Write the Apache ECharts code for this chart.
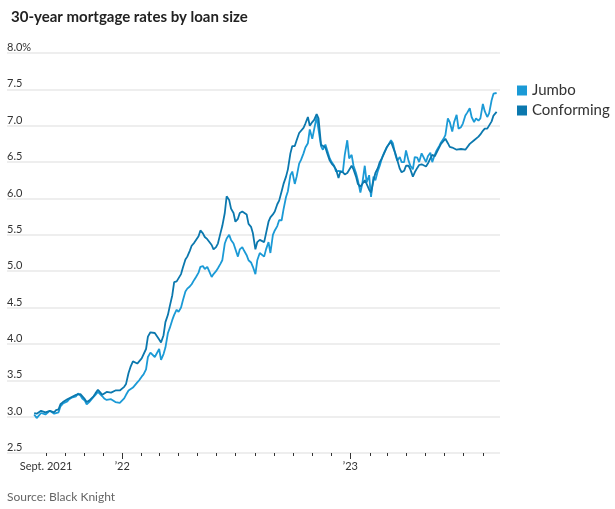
<!DOCTYPE html>
<html>
<head>
<meta charset="utf-8">
<script src="https://cdn.jsdelivr.net/npm/echarts@6/dist/echarts.min.js"></script>
<style>
html,body{margin:0;padding:0;background:#fff;}
#chart{width:615px;height:509px;}
</style>
</head>
<body>
<div id="chart"></div>
<script>
// Friday readings
const fridays = [
'2021-08-13','2021-08-20','2021-08-27','2021-09-03','2021-09-10','2021-09-17','2021-09-24','2021-10-01','2021-10-08','2021-10-15','2021-10-22','2021-10-29','2021-11-05','2021-11-12','2021-11-19','2021-11-26','2021-12-03','2021-12-10','2021-12-17','2021-12-24','2021-12-31',
'2022-01-07','2022-01-14','2022-01-21','2022-01-28','2022-02-04','2022-02-11','2022-02-18','2022-02-25','2022-03-04','2022-03-11','2022-03-18','2022-03-25','2022-04-01','2022-04-08','2022-04-15','2022-04-22','2022-04-29','2022-05-06','2022-05-13','2022-05-20','2022-05-27','2022-06-03','2022-06-10','2022-06-17','2022-06-24','2022-07-01','2022-07-08','2022-07-15','2022-07-22','2022-07-29','2022-08-05','2022-08-12','2022-08-19','2022-08-26','2022-09-02','2022-09-09','2022-09-16','2022-09-23','2022-09-30','2022-10-07','2022-10-14','2022-10-21','2022-10-28','2022-11-04','2022-11-11','2022-11-18','2022-11-25','2022-12-02','2022-12-09','2022-12-16','2022-12-23','2022-12-30',
'2023-01-06','2023-01-13','2023-01-20','2023-01-27','2023-02-03','2023-02-10','2023-02-17','2023-02-24','2023-03-03','2023-03-10','2023-03-17','2023-03-24','2023-03-31','2023-04-07','2023-04-14','2023-04-21','2023-04-28','2023-05-05','2023-05-12','2023-05-19','2023-05-26','2023-06-02','2023-06-09','2023-06-16','2023-06-23','2023-06-30','2023-07-07','2023-07-14','2023-07-21','2023-07-28','2023-08-04','2023-08-11','2023-08-18','2023-08-23'
];
const jumboFri = [
3.03,2.99,3.07,3.05,3.07,3.05,3.14,3.20,3.24,3.26,3.32,3.25,3.17,3.22,3.30,3.32,3.25,3.22,3.23,3.18,3.21,
3.30,3.37,3.42,3.50,3.58,3.82,3.90,3.84,3.78,3.95,4.22,4.40,4.44,4.60,4.76,4.82,4.92,5.06,5.03,5.00,4.96,5.04,5.15,5.45,5.43,5.36,5.30,5.28,5.15,5.06,5.15,5.27,5.30,5.25,5.56,5.70,5.85,6.10,6.37,6.30,6.53,6.70,6.95,6.95,7.10,6.67,6.72,6.50,6.37,6.39,6.60,6.55,
6.45,6.25,6.20,6.22,6.02,6.25,6.45,6.63,6.74,6.76,6.52,6.50,6.66,6.45,6.57,6.50,6.60,6.58,6.50,6.66,6.77,6.87,7.05,7.05,6.96,7.03,7.18,7.12,7.10,7.10,7.20,7.17,7.44,7.45
];
const conformingFri = [
3.05,3.06,3.09,3.07,3.07,3.09,3.17,3.22,3.26,3.28,3.31,3.29,3.20,3.24,3.32,3.34,3.32,3.34,3.32,3.36,3.38,
3.45,3.68,3.78,3.76,3.82,4.10,4.17,4.14,4.02,4.30,4.52,4.85,4.85,5.05,5.20,5.35,5.41,5.56,5.47,5.42,5.30,5.38,5.62,6.03,5.86,5.68,5.80,5.80,5.65,5.52,5.40,5.43,5.52,5.74,5.82,5.97,6.20,6.40,6.72,6.80,6.92,7.03,7.00,7.08,7.10,6.72,6.62,6.48,6.40,6.37,6.33,6.37,
6.40,6.20,6.17,6.20,6.08,6.35,6.50,6.62,6.74,6.71,6.53,6.36,6.45,6.40,6.36,6.46,6.47,6.48,6.60,6.60,6.75,6.82,6.71,6.69,6.68,6.67,6.68,6.77,6.81,6.88,6.96,6.95,7.14,7.19
];
// Mid-week readings
const midweeks = [
'2021-08-17','2021-08-24','2021-08-31','2021-09-07','2021-09-14','2021-09-21','2021-09-28','2021-10-05','2021-10-12','2021-10-19','2021-10-26','2021-11-02','2021-11-09','2021-11-16','2021-11-23','2021-11-30','2021-12-07','2021-12-14','2021-12-21','2021-12-28','2022-01-04',
'2022-01-11','2022-01-18','2022-01-25','2022-02-01','2022-02-08','2022-02-15','2022-02-22','2022-03-01','2022-03-08','2022-03-15','2022-03-22','2022-03-29','2022-04-05','2022-04-12','2022-04-19','2022-04-26','2022-05-03','2022-05-10','2022-05-17','2022-05-24','2022-05-31','2022-06-07','2022-06-14','2022-06-21','2022-06-28','2022-07-05','2022-07-12','2022-07-19','2022-07-26','2022-08-02','2022-08-09','2022-08-16','2022-08-23','2022-08-30','2022-09-06','2022-09-13','2022-09-20','2022-09-27','2022-10-04','2022-10-11','2022-10-18','2022-10-25','2022-11-01','2022-11-08','2022-11-15','2022-11-22','2022-11-29','2022-12-06','2022-12-13','2022-12-20','2022-12-27','2023-01-03',
'2023-01-10','2023-01-17','2023-01-24','2023-01-31','2023-02-07','2023-02-14','2023-02-21','2023-02-28','2023-03-07','2023-03-14','2023-03-21','2023-03-28','2023-04-04','2023-04-11','2023-04-18','2023-04-25','2023-05-02','2023-05-09','2023-05-16','2023-05-23','2023-05-30','2023-06-06','2023-06-13','2023-06-20','2023-06-27','2023-07-04','2023-07-11','2023-07-18','2023-07-25','2023-08-01','2023-08-08','2023-08-15','2023-08-21'
];
const jumboMid = [
2.98,3.05,3.03,3.08,3.04,3.06,3.18,3.21,3.26,3.28,3.29,3.22,3.20,3.27,3.34,3.28,3.23,3.24,3.20,3.19,3.25,
3.36,3.40,3.47,3.55,3.65,3.88,3.82,3.93,3.86,4.15,4.33,4.47,4.50,4.72,4.79,4.88,4.98,5.07,5.06,4.92,5.00,5.10,5.38,5.50,5.38,5.20,5.33,5.22,5.12,4.96,5.25,5.20,5.40,5.50,5.62,5.70,6.02,6.32,6.20,6.48,6.62,6.76,6.82,7.12,6.72,6.74,6.55,6.45,6.38,6.37,6.80,6.60,
6.35,6.08,6.45,6.32,6.30,6.38,6.57,6.70,6.80,6.60,6.57,6.50,6.52,6.40,6.56,6.62,6.50,6.63,6.60,6.72,6.82,7.10,6.92,7.15,6.98,7.14,7.24,7.05,7.07,7.30,7.12,7.35,7.46
];
const conformingMid = [
3.04,3.08,3.06,3.08,3.06,3.10,3.20,3.24,3.27,3.30,3.31,3.24,3.22,3.28,3.37,3.30,3.34,3.33,3.36,3.36,3.41,
3.60,3.76,3.73,3.80,3.93,4.16,4.15,4.06,4.12,4.40,4.67,4.86,4.96,5.16,5.28,5.39,5.48,5.52,5.44,5.36,5.33,5.52,5.80,5.98,5.80,5.72,5.82,5.78,5.61,5.30,5.43,5.40,5.68,5.78,5.92,6.10,6.30,6.62,6.72,6.90,6.97,7.12,7.05,7.16,6.74,6.70,6.52,6.44,6.28,6.36,6.35,6.45,
6.30,6.16,6.25,6.12,6.25,6.42,6.56,6.70,6.78,6.62,6.41,6.38,6.45,6.30,6.42,6.47,6.44,6.55,6.58,6.70,6.79,6.76,6.70,6.67,6.68,6.67,6.75,6.80,6.85,6.93,6.96,7.06,7.17
];
const monthTicks = [
'2021-09-01','2021-10-01','2021-11-01','2021-12-01','2022-01-01','2022-02-01','2022-03-01','2022-04-01','2022-05-01','2022-06-01','2022-07-01','2022-08-01','2022-09-01','2022-10-01','2022-11-01','2022-12-01','2023-01-01','2023-02-01','2023-03-01','2023-04-01','2023-05-01','2023-06-01','2023-07-01','2023-08-01'
];
const yearTicks = ['2022-01-01','2023-01-01'];
const xLabels = {'2021-09-01':'Sept. 2021','2022-01-01':'\u201922','2023-01-01':'\u201923'};

const ts = s => { const p = s.split('-'); return Date.UTC(+p[0], +p[1]-1, +p[2]); };
const build = (d1, v1, d2, v2) => d1.map((d,i) => [ts(d), v1[i]]).concat(d2.map((d,i) => [ts(d), v2[i]])).sort((a,b) => a[0]-b[0]);
const jumboData = build(fridays, jumboFri, midweeks, jumboMid);
const conformingData = build(fridays, conformingFri, midweeks, conformingMid);

const xMin = Date.UTC(2021,5,30,12);
const xMax = Date.UTC(2023,7,28,10);
const labelMap = {};
Object.keys(xLabels).forEach(k => { labelMap[ts(k)] = xLabels[k]; });

const FONT = 'Lato, "Noto Sans", sans-serif';
const chart = echarts.init(document.getElementById('chart'));
chart.setOption({
  animation: false,
  backgroundColor: '#fff',
  title: {
    text: '30-year mortgage rates by loan size',
    left: 6, top: 5,
    textStyle: {fontFamily: FONT, fontWeight: 'bold', fontSize: 15, color: '#222'}
  },
  graphic: [{
    type: 'text', left: 7, top: 491,
    style: {text: 'Source: Black Knight', fontFamily: FONT, fontSize: 12, fill: '#666'}
  }],
  legend: {
    orient: 'vertical', left: 517, top: 83, padding: 0,
    icon: 'rect', itemWidth: 10, itemHeight: 10, itemGap: 5,
    textStyle: {fontFamily: FONT, fontSize: 15, color: '#333'},
    data: ['Jumbo','Conforming']
  },
  grid: {left: 7, right: 115, top: 53, bottom: 56, containLabel: false},
  xAxis: [{
    type: 'value', min: xMin, max: xMax, position: 'bottom',
    axisLine: {show: false}, splitLine: {show: false},
    axisTick: {show: true, length: 3, customValues: monthTicks.map(ts), lineStyle: {color: '#333', width: 1}},
    axisLabel: {show: true, customValues: Object.keys(xLabels).map(ts), margin: 8,
      fontFamily: FONT, fontSize: 11, color: '#333',
      formatter: v => labelMap[v] || ''}
  },{
    type: 'value', min: xMin, max: xMax, position: 'bottom', offset: 0,
    axisLine: {show: false}, splitLine: {show: false},
    axisTick: {show: true, length: 6, customValues: yearTicks.map(ts), lineStyle: {color: '#333', width: 1}},
    axisLabel: {show: false}
  }],
  yAxis: {
    type: 'value', min: 2.5, max: 8, interval: 0.5,
    axisLine: {show: false}, axisTick: {show: false},
    splitLine: {show: true, lineStyle: {color: '#e8e8e8', width: 1.5}},
    axisLabel: {inside: true, margin: 0, align: 'left', verticalAlign: 'bottom', padding: [0,0,0,0],
      fontFamily: FONT, fontSize: 11, color: '#333',
      formatter: v => v === 8 ? '8.0%' : v.toFixed(1)}
  },
  series: [{
    name: 'Jumbo', type: 'line', xAxisIndex: 0, showSymbol: false,
    color: '#1b9ad6', lineStyle: {width: 1.8, color: '#1b9ad6'},
    data: jumboData
  },{
    name: 'Conforming', type: 'line', xAxisIndex: 0, showSymbol: false,
    color: '#0b78ae', lineStyle: {width: 1.8, color: '#0b78ae'},
    data: conformingData
  }]
});
</script>
</body>
</html>
